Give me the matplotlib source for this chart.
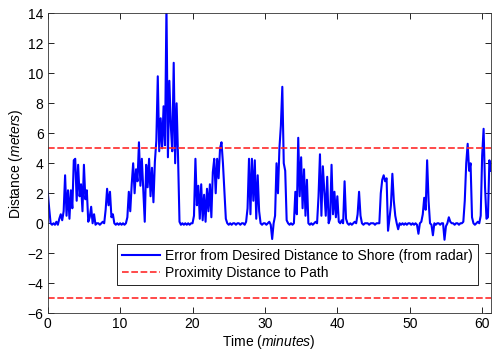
import numpy as np
import matplotlib
matplotlib.use("Agg")
import matplotlib.pyplot as plt

plt.rcParams['font.family'] = ['Liberation Sans', 'DejaVu Sans']
plt.rcParams['mathtext.fontset'] = 'custom'
plt.rcParams['mathtext.rm'] = 'Liberation Sans'
plt.rcParams['mathtext.it'] = 'Liberation Sans:italic'
plt.rcParams['lines.scale_dashes'] = False

# Sample times (minutes), 0.2-minute spacing
time_step = 0.2
error_values = [
    2.1, 1.0, 0.0, -0.1, 0.0,
    -0.1, 0.1, -0.1, 0.3, 0.6,
    0.2, 0.8, 3.2, 0.5, 2.2,
    0.3, 2.2, 1.0, 4.2, 4.3,
    1.5, 3.9, 1.8, 2.6, 0.8,
    3.9, 1.6, 2.2, 0.1, 0.4,
    1.1, 0.0, 0.6, -0.1, 0.0,
    0.0, -0.1, 0.0, 0.1, 0.0,
    0.9, 2.3, 1.2, 2.1, 0.4,
    0.6, 0.0, -0.1, 0.0, -0.1,
    0.0, -0.1, 0.0, -0.1, 0.0,
    0.4, 2.1, 0.8, 2.6, 4.0,
    2.0, 3.6, 2.8, 5.4, 2.5,
    4.3, 2.2, 0.1, 3.9, 2.4,
    4.3, 1.8, 3.7, 1.4, 4.1,
    5.5, 9.8, 4.8, 7.0, 5.0,
    7.8, 5.2, 14.5, 4.4, 9.5,
    6.5, 4.8, 10.7, 4.0, 8.0,
    4.4, 0.1, -0.1, 0.0, -0.1,
    0.0, -0.1, 0.0, -0.1, 0.0,
    0.0, 0.5, 4.3, 1.2, 2.5,
    0.3, 2.6, 0.2, 1.9, 0.1,
    2.3, 0.8, 2.6, 0.4, 3.4,
    4.3, 2.0, 4.3, 3.0, 5.0,
    5.4, 4.0, 2.2, 0.3, 0.0,
    -0.1, 0.0, -0.1, 0.0, 0.0,
    -0.1, 0.0, 0.0, -0.1, 0.0,
    0.0, -0.1, 0.1, 1.0, 4.3,
    0.6, 4.3, 1.5, 4.2, 0.3,
    3.2, 0.8, 0.0, -0.1, 0.0,
    0.0, -0.1, 0.0, 0.1, -0.1,
    -1.05, 0.0, 0.5, 4.0, 2.0,
    5.0, 6.5, 9.1, 4.0, 3.5,
    0.2, 0.0, -0.1, 0.0, -0.1,
    0.0, 2.1, 0.6, 5.7, 1.8,
    4.4, 1.0, 3.6, 0.5, 2.9,
    0.0, -0.1, 0.0, -0.1, 0.0,
    0.1, 0.0, 1.8, 4.6, 0.5,
    3.8, 2.1, 0.5, 3.1, 0.0,
    0.3, 3.9, 0.6, 2.1, 0.4,
    1.8, 0.1, 0.0, 0.2, 0.0,
    2.8, 0.3, 0.0, -0.1, 0.0,
    -0.1, 0.0, 0.1, 0.0, 0.6,
    2.1, 0.5, 0.0, -0.1, 0.0,
    0.0, 0.0, -0.1, 0.0, 0.0,
    0.0, -0.1, 0.0, 0.0, 0.0,
    2.0, 2.9, 3.2, 2.8, 3.0,
    -0.5, 0.3, 1.2, 3.3, 1.5,
    0.5, 0.0, -0.4, 0.0, -0.1,
    0.0, -0.1, 0.0, -0.1, 0.0,
    0.0, -0.1, 0.0, -0.1, 0.0,
    -0.1, -0.7, 0.0, 0.1, 0.6,
    1.7, 0.9, 4.2, 1.5, 0.0,
    -0.1, -0.8, 0.0, -0.1, 0.0,
    0.0, -0.1, 0.0, 0.0, -1.1,
    -0.2, 0.0, 0.4, 0.1, 0.0,
    0.0, -0.1, 0.0, 0.0, -0.1,
    0.0, 0.0, 0.1, 1.5, 4.0,
    5.3, 3.5, 4.0, 0.4, 0.0,
    -0.1, 0.0, 0.1, 0.0, 0.5,
    4.5, 6.3, 2.4, 0.3, 0.4,
    4.2, 3.5,
]
time_min = np.arange(len(error_values)) * time_step

proximity_distance = 5.0
x_ticks = [0, 10, 20, 30, 40, 50, 60]
y_ticks = [-6, -4, -2, 0, 2, 4, 6, 8, 10, 12, 14]

fig = plt.figure(figsize=(4.94, 3.5), dpi=100)
ax = fig.add_axes([0.0966, 0.105, 0.897, 0.857])

ax.plot(time_min, error_values, color='#0000ff', lw=1.5,
        label='Error from Desired Distance to Shore (from radar)')
ax.axhline(proximity_distance, color='#ff2a2a', lw=1.2, dashes=(4.8, 1.9),
           label='Proximity Distance to Path')
ax.axhline(-proximity_distance, color='#ff2a2a', lw=1.2, dashes=(4.8, 1.9))

ax.set_xlim(0, 61.2)
ax.set_ylim(-6, 14)
ax.set_xticks(x_ticks)
ax.set_yticks(y_ticks)
ax.tick_params(direction='in', length=4, width=0.6, top=True, right=True,
               labelsize=10, pad=3)
for s in ax.spines.values():
    s.set_linewidth(0.6)
    s.set_color('#333333')

ax.set_xlabel(r'Time $\mathit{(minutes)}$', fontsize=10, labelpad=1)
ax.set_ylabel(r'Distance $\mathit{(meters)}$', fontsize=10, labelpad=2)

leg = ax.legend(loc='lower right', bbox_to_anchor=(0.971, 0.094), fontsize=10,
                fancybox=False, framealpha=1, edgecolor='black',
                handlelength=2.7, borderpad=0.35, labelspacing=0.25,
                handletextpad=0.4, borderaxespad=0)
leg.get_frame().set_linewidth(0.6)

fig.savefig('out.png', dpi=100)
